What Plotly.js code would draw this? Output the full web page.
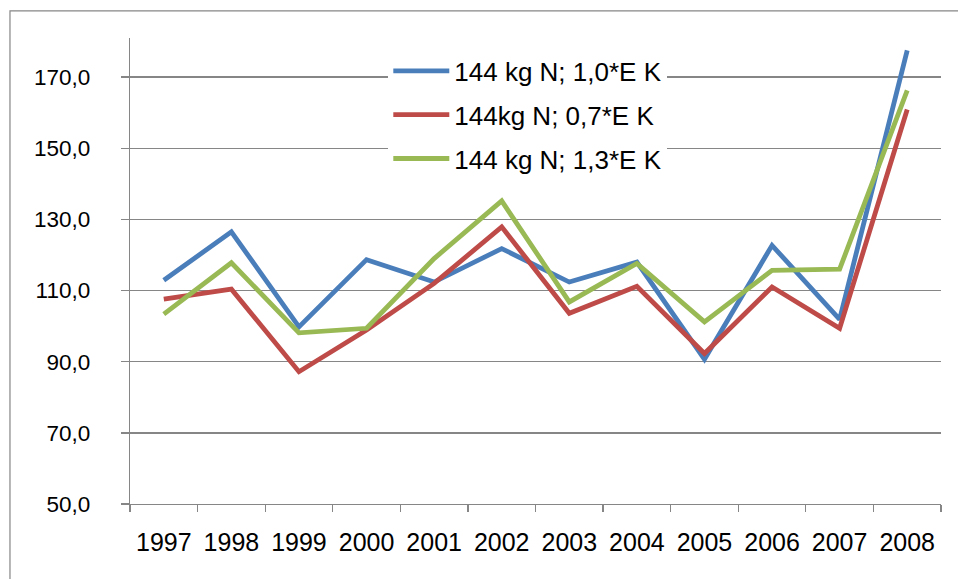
<!DOCTYPE html>
<html>
<head>
<meta charset="utf-8">
<script src="https://cdn.plot.ly/plotly-3.0.1.min.js"></script>
<style>
html,body{margin:0;padding:0;background:#fff;}
#chart{width:958px;height:579px;}
</style>
</head>
<body>
<div id="chart"></div>
<script>
const years = ['1997','1998','1999','2000','2001','2002','2003','2004','2005','2006','2007','2008'];
const seriesNames = ['144 kg N; 1,0*E K', '144kg N; 0,7*E K', '144 kg N; 1,3*E K'];
const k10 = [112.9, 126.5, 99.8, 118.7, 112.4, 121.8, 112.4, 118.0, 90.7, 122.7, 101.9, 177.5];
const k07 = [107.6, 110.4, 87.2, 98.9, 112.0, 127.9, 103.6, 111.2, 92.3, 111.0, 99.4, 160.9];
const k13 = [103.4, 117.8, 98.1, 99.4, 119.0, 135.2, 106.8, 117.6, 101.2, 115.7, 116.0, 166.3];
const colors = ['#4A7EBB', '#BE4B48', '#98B954'];
const yTicks = [50, 70, 90, 110, 130, 150, 170];

const allSeries = [k10, k07, k13];
const traces = allSeries.map((vals, i) => ({
  type: 'scatter',
  mode: 'lines',
  x: years,
  y: vals,
  name: seriesNames[i],
  legendgroup: 'g' + i,
  line: {color: colors[i], width: 4.8},
  hoverinfo: 'skip'
}));

const grid = '#868686';
const layout = {
  width: 958,
  height: 579,
  margin: {l: 130, r: 17, t: 38, b: 75},
  paper_bgcolor: '#ffffff',
  plot_bgcolor: '#ffffff',
  separators: ', ',
  font: {family: 'Liberation Sans, Arial, sans-serif', color: '#000000'},
  showlegend: true,
  legend: {
    x: 0.3185, xanchor: 'left',
    y: 0.9796, yanchor: 'top',
    bgcolor: '#ffffff',
    borderwidth: 0,
    font: {size: 26, color: '#000000'},
    traceorder: 'grouped',
    tracegroupgap: 7,
    itemwidth: 56
  },
  xaxis: {
    type: 'category',
    range: [-0.5, years.length - 0.5],
    showgrid: false,
    showline: true,
    linecolor: grid,
    linewidth: 1.3,
    ticks: 'outside',
    tickson: 'boundaries',
    ticklen: 7,
    tickcolor: grid,
    tickwidth: 1.3,
    tickfont: {size: 25},
    ticklabelstandoff: 16,
    fixedrange: true
  },
  yaxis: {
    range: [50, 181],
    tickvals: yTicks,
    tickformat: '.1f',
    showgrid: true,
    gridcolor: grid,
    gridwidth: 1.3,
    zeroline: false,
    showline: true,
    linecolor: grid,
    linewidth: 1.3,
    ticks: 'outside',
    ticklen: 8,
    tickcolor: grid,
    tickwidth: 1.3,
    tickfont: {size: 22.5},
    ticklabelstandoff: 26,
    fixedrange: true
  },
  shapes: [{
    type: 'rect', xref: 'paper', yref: 'paper',
    x0: -0.148, x1: 1.04, y0: -0.2, y1: 1.058,
    line: {color: '#868686', width: 1.2},
    layer: 'below'
  }]
};

Plotly.newPlot('chart', traces, layout, {staticPlot: true, displayModeBar: false});
</script>
</body>
</html>
